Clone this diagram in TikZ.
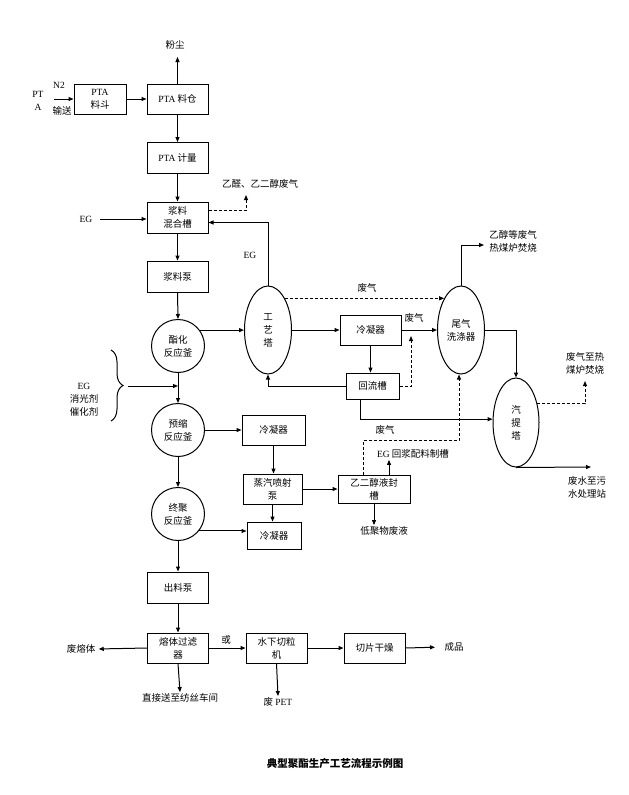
\documentclass[tikz,border=0pt]{standalone}
\usepackage{fontspec}
\setmainfont{Liberation Serif}
\newfontfamily\cjk{Noto Sans CJK SC}
\newfontfamily\latf{Liberation Serif}
\newcommand\lat[1]{{\latf #1}}
\usetikzlibrary{shapes.geometric,arrows.meta,decorations.pathreplacing}
\begin{document}
\begin{tikzpicture}[x=1pt,y=-1pt,
  every node/.style={font=\cjk\fontsize{9.5}{13}\selectfont, align=center, inner sep=1pt},
  box/.style={draw, rectangle, minimum width=61pt, minimum height=30pt, inner sep=0pt},
  rcirc/.style={draw, circle, minimum size=53pt, inner sep=0pt},
  tower/.style={draw, ellipse, minimum width=47pt, minimum height=88pt, inner sep=0pt},
  flow/.style={-{Triangle[length=5pt,width=4pt]}, line width=1pt},
  dflow/.style={flow, dash pattern=on 3pt off 2pt},
  line width=1pt]
\useasboundingbox (0,0) rectangle (629,795);
% boxes and vessels
\node[box, minimum width=52pt] (liaodou) at (100,99) {\lat{PTA}\\料斗};
\node[box] (liaocang) at (177.5,99) {\lat{PTA} 料仓};
\node[box, minimum height=31pt] (jiliang) at (177.5,158) {\lat{PTA} 计量};
\node[box, minimum height=31pt] (hunhe) at (177.5,217.5) {浆料\\混合槽};
\node[box, minimum height=31pt] (bengA) at (177.5,276.5) {浆料泵};
\node[rcirc] (zhihua) at (178,346) {酯化\\反应釜};
\node[tower] (gongyi) at (268,330) {工\\艺\\塔};
\node[box] (lngA) at (370.5,330) {冷凝器};
\node[tower] (weiqi) at (461,330) {尾气\\洗涤器};
\node[box, minimum width=53pt, minimum height=26pt] (huiliu) at (372.5,386) {回流槽};
\node[tower, minimum width=46pt, minimum height=89pt] (qiti) at (516,422.5) {汽\\提\\塔};
\node[rcirc] (yusuo) at (178,430) {预缩\\反应釜};
\node[box, minimum width=63pt] (lngB) at (273.5,430) {冷凝器};
\node[box, minimum width=59pt] (zhengqi) at (272.5,489) {蒸汽喷射\\泵};
\node[box, minimum width=72pt, minimum height=28pt] (yefeng) at (374,489) {乙二醇液封\\槽};
\node[rcirc] (zhongju) at (178,514) {终聚\\反应釜};
\node[box, minimum width=54pt, minimum height=27pt] (lngC) at (274,535.5) {冷凝器};
\node[box, minimum height=31pt] (chuliao) at (178,587.5) {出料泵};
\node[box] (rongti) at (178,648) {熔体过滤\\器};
\node[box] (shuixia) at (276.5,648) {水下切粒\\机};
\node[box] (qiepian) at (374.5,648) {切片干燥};
% labels
\node (tFen) at (175,45) {粉尘};
\node (tPT) at (38,101) {\lat{PT}\\\lat{A}};
\node (tN2) at (59,85) {\lat{N2}};
\node (tShu) at (62,111) {输送};
\node (tEG1) at (86,219) {\lat{EG}};
\node (tYq) at (260,184) {乙醛、乙二醇废气};
\node (tEG2) at (250,255) {\lat{EG}};
\node (tFq1) at (367,288) {废气};
\node (tFq2) at (414,318) {废气};
\node (tYc) at (513,241) {乙醇等废气\\热煤炉焚烧};
\node (tFq3) at (385,430) {废气};
\node (tQr) at (585,363) {废气至热\\煤炉焚烧};
\node (tFs) at (587,487) {废水至污\\水处理站};
\node (tEGh) at (413,454) {\lat{EG} 回浆配料制槽};
\node (tDj) at (384,531) {低聚物废液};
\node (tXg) at (84,400) {\lat{EG}\\消光剂\\催化剂};
\node (tFr) at (81,649) {废熔体};
\node (tZj) at (180,698) {直接送至纺丝车间};
\node (tHuo) at (226,640) {或};
\node (tPet) at (278,702) {废 \lat{PET}};
\node (tCp) at (454,647) {成品};
\node[font=\cjk\bfseries\fontsize{10.5}{13}\selectfont] (title) at (335,764) {典型聚酯生产工艺流程示例图};
% coordinates for free ends
\coordinate (pIn) at (54,99);
\coordinate (cFen) at (177.5,57);
\coordinate (cE) at (246,195);
\coordinate (cYc) at (484,245);
\coordinate (cH) at (411,336);
\coordinate (cQ) at (585,381);
\coordinate (cW) at (591,467);
\coordinate (cD) at (459,440);
\coordinate (cB) at (128,386);
% connectors
\draw[flow] (pIn) -- (liaodou.west);
\draw[flow] (liaodou.east) -- (liaocang.west);
\draw[flow] (liaocang.north) -- (cFen);
\draw[flow] (liaocang.south) -- (jiliang.north);
\draw[flow] (jiliang.south) -- (hunhe.north);
\draw[flow, shorten <=6pt] (tEG1.east) -- (tEG1.east -| hunhe.west);
\draw[dflow] ([yshift=7pt]hunhe.east) -| (cE);
\draw[flow] (gongyi.north) |- ([yshift=-5pt]hunhe.east);
\draw[flow] (hunhe.south) -- (bengA.north);
\draw[flow] (bengA.south) -- (zhihua.north);
\draw[flow] (zhihua.36) -- (zhihua.36 -| gongyi.west);
\draw[flow] (gongyi.east) -- (lngA.west);
\draw[dflow] (gongyi.62) -- (weiqi.118);
\draw[flow] (lngA.east) -- (weiqi.west);
\draw[flow] (weiqi.north) |- (cYc);
\draw[flow] (weiqi.east) -| (qiti.north);
\draw[flow] (lngA.south) -- (lngA.south |- huiliu.north);
\draw[flow] (huiliu.west) -| (gongyi.south);
\draw[dflow] (huiliu.east) -| (cH);
\draw[flow] ([xshift=-12pt]huiliu.south) |- (qiti.172);
\draw[dflow] (qiti.41) -| (cQ);
\draw[flow] (qiti.south) -- (cW);
\draw[dflow] ([xshift=-11pt]yefeng.north) |- (cD) -- (cD |- weiqi.south);
\draw[flow] ([xshift=15pt]yefeng.north) -- ([xshift=15pt]yefeng.north |- tEGh.south);
\draw[flow] (yefeng.south) -- (yefeng.south |- tDj.north);
\draw[flow] (zhihua.south) -- (yusuo.north);
\draw[decorate, decoration={brace, amplitude=12pt}] (111,350) -- (111,421);
\draw[flow] (cB) -- (cB -| zhihua.south);
\draw[flow] (yusuo.east) -- (lngB.west);
\draw[flow] (lngB.south) -- (lngB.south |- zhengqi.north);
\draw[flow] (zhengqi.east) -- (yefeng.west);
\draw[flow] (zhengqi.south) -- (zhengqi.south |- lngC.north);
\draw[flow] (yusuo.south) -- (zhongju.north);
\draw[flow] (zhongju.-39) -- (zhongju.-39 -| lngC.west);
\draw[flow] (zhongju.south) -- (chuliao.north);
\draw[flow] (chuliao.south) -- (rongti.north);
\draw[flow, shorten >=2pt] (rongti.west) -- (tFr.east);
\draw[flow] (rongti.south) -- (tZj.north);
\draw[flow] (rongti.east) -- (shuixia.west);
\draw[flow] (shuixia.south) -- (tPet.north);
\draw[flow] (shuixia.east) -- (qiepian.west);
\draw[flow, shorten >=8pt] (qiepian.east) -- (tCp.west);
\end{tikzpicture}
\end{document}
